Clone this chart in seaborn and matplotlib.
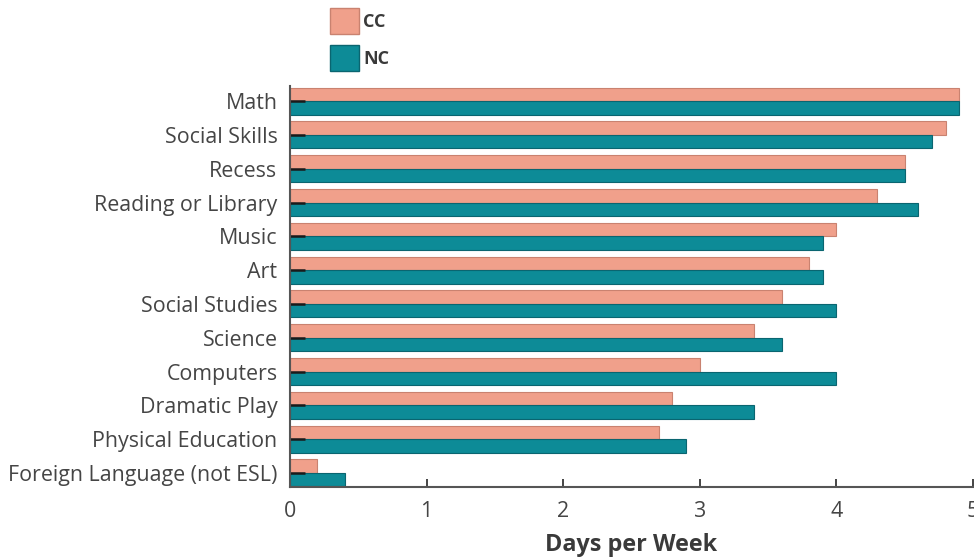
import matplotlib
matplotlib.use("Agg")
import matplotlib.pyplot as plt
import seaborn as sns
import pandas as pd
from matplotlib.patches import Patch

# Subjects and average days per week for each group
subjects = [
    "Math", "Social Skills", "Recess", "Reading or Library", "Music", "Art",
    "Social Studies", "Science", "Computers", "Dramatic Play",
    "Physical Education", "Foreign Language (not ESL)",
]
cc_days = [4.9, 4.8, 4.5, 4.3, 4.0, 3.8, 3.6, 3.4, 3.0, 2.8, 2.7, 0.2]
nc_days = [4.9, 4.7, 4.5, 4.6, 3.9, 3.9, 4.0, 3.6, 4.0, 3.4, 2.9, 0.4]
groups = ["CC", "NC"]
x_ticks = [0, 1, 2, 3, 4, 5]

df = pd.DataFrame({
    "Subject": subjects * 2,
    "Days": cc_days + nc_days,
    "Group": ["CC"] * len(subjects) + ["NC"] * len(subjects),
})

sns.set_style("white")
plt.rcParams["font.family"] = ["Open Sans", "DejaVu Sans"]

palette = {"CC": "#F0A08B", "NC": "#0D8B97"}
edges = {"CC": "#C98270", "NC": "#0A6570"}

fig = plt.figure(figsize=(9.74, 5.58), dpi=100)
ax = fig.add_axes([0.2977, 0.127, 0.7013, 0.719])

sns.barplot(data=df, y="Subject", x="Days", hue="Group", hue_order=groups,
            order=subjects, palette=palette, orient="h", width=0.8,
            dodge=True, legend=False, ax=ax, saturation=1)

for container, g in zip(ax.containers, groups):
    for bar in container:
        bar.set_edgecolor(edges[g])
        bar.set_linewidth(0.8)
        bar.set_zorder(1)

ax.set_axisbelow(False)
ax.set_xlim(0, 5)
ax.set_ylim(len(subjects) - 0.58, -0.45)
ax.set_xticks(x_ticks)
ax.set_xticklabels([str(t) for t in x_ticks])
ax.set_ylabel("")
ax.set_xlabel("Days per Week", fontsize=16.8, fontweight="bold",
              color="#3a3a3a", labelpad=8)

for side in ("top", "right"):
    ax.spines[side].set_visible(False)
for side in ("left", "bottom"):
    ax.spines[side].set_color("#555555")
    ax.spines[side].set_linewidth(1.5)
    ax.spines[side].set_zorder(3)

ax.tick_params(axis="y", left=True, direction="in", length=11, width=1.8,
               color="#1a1a1a", labelsize=15.4, labelcolor="#454545", pad=9)
ax.tick_params(axis="x", bottom=True, direction="in", length=6, width=1.4,
               color="#444444", labelsize=15.4, labelcolor="#454545", pad=10)

handles = [Patch(facecolor=palette[g], edgecolor=edges[g], label=g) for g in groups]
leg = fig.legend(handles=handles, loc="upper left",
                 bbox_to_anchor=(330 / 974, 1 - 8 / 558), frameon=False,
                 prop={"size": 13, "weight": "bold"}, handlelength=1.6,
                 handleheight=1.85, handletextpad=0.25, labelspacing=0.62,
                 borderpad=0, borderaxespad=0)
for t in leg.get_texts():
    t.set_color("#3a3a3a")

fig.savefig("out.png", dpi=100)
